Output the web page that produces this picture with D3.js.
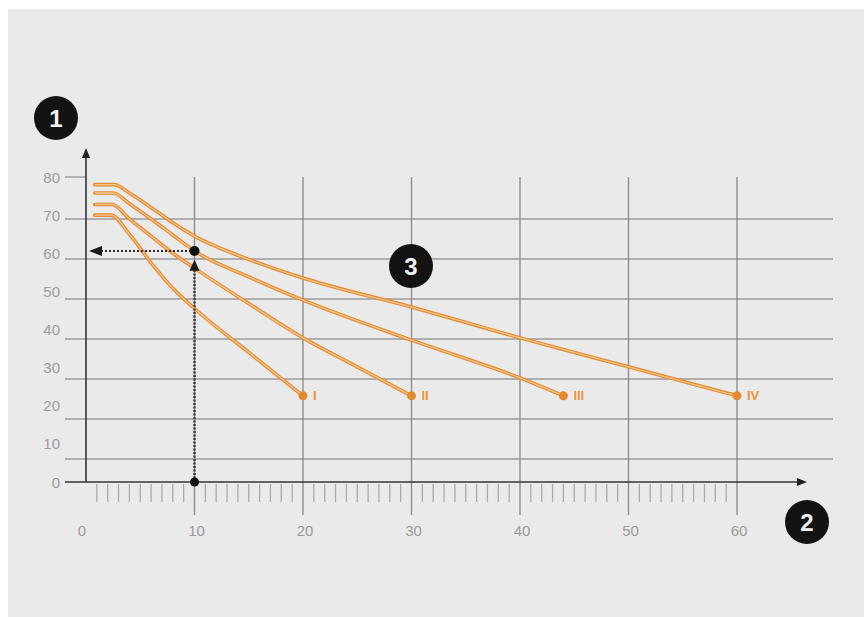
<!DOCTYPE html>
<html>
<head>
<meta charset="utf-8">
<script src="https://cdn.jsdelivr.net/npm/d3@7"></script>
<style>
body { margin: 0; background: #fff; }
text { font-family: "Liberation Sans", Arial, sans-serif; }
</style>
</head>
<body>
<svg id="chart" width="864" height="617"></svg>
<script>
// tick labels
var xTicks = [0, 10, 20, 30, 40, 50, 60]
var yTicks = [0, 10, 20, 30, 40, 50, 60, 70, 80]
var gridLevels = [10, 20, 30, 40, 50, 60, 70]

// the four curves, [x, y]
var seriesNames = ['I', 'II', 'III', 'IV']
var curveI = [[0.8, 70], [2.3, 70], [4, 65], [6, 57.5], [8, 50.8], [10, 45.5], [15, 34], [20, 22.6]]
var curveII = [[0.8, 72.8], [2.4, 72.8], [4, 69], [6, 64.5], [8, 60], [10, 56.1], [15, 46.8], [20, 37.8], [25, 30.2], [30, 22.6]]
var curveIII = [[0.8, 75.8], [2.5, 75.8], [4, 73], [6, 69], [8, 64.8], [10, 60.6], [15, 53.8], [20, 47.7], [30, 37.2], [40, 27.3], [44, 22.6]]
var curveIV = [[0.8, 78], [2.6, 78], [4, 75.8], [6, 72], [8, 68], [10, 64.5], [15, 58.4], [20, 53.5], [30, 45.9], [40, 37.8], [50, 30.2], [60, 22.6]]

// reading example: x = 10 gives about 60
var readX = 10
var readY = 60.6
var readArrowY = 58.3

var orange = '#e38a2e'
var svg = d3.select('#chart')

svg.append('rect')
    .attr('x', 8).attr('y', 9)
    .attr('width', 856).attr('height', 608)
    .attr('fill', '#eaeaea')

var x = d3.scaleLinear().domain([0, 60]).range([86, 737])
var y = d3.scaleLinear().domain([0, 80]).range([482, 177])
// grid rows are drawn a little off the label positions in the original
var gy = d3.scaleLinear().domain([10, 70]).range([459, 219])

// horizontal grid
svg.append('g').selectAll('line')
    .data(gridLevels)
    .join('line')
    .attr('x1', 65).attr('x2', 833)
    .attr('y1', function(d) { return gy(d) })
    .attr('y2', function(d) { return gy(d) })
    .attr('stroke', '#9b9b9b')
    .attr('stroke-width', 1.4)

// short stub at 80
svg.append('line')
    .attr('x1', 65).attr('x2', x(0))
    .attr('y1', y(80)).attr('y2', y(80))
    .attr('stroke', '#9b9b9b')
    .attr('stroke-width', 1.4)

// vertical grid
svg.append('g').selectAll('line')
    .data(xTicks.filter(function(d) { return d > 0 }))
    .join('line')
    .attr('x1', function(d) { return x(d) })
    .attr('x2', function(d) { return x(d) })
    .attr('y1', y(80))
    .attr('y2', 515)
    .attr('stroke', '#8e8e8e')
    .attr('stroke-width', 1.4)

// minor ticks under the x axis
svg.append('g').selectAll('line')
    .data(d3.range(0, 60).filter(function(d) { return d % 10 != 0 }))
    .join('line')
    .attr('x1', function(d) { return x(d) })
    .attr('x2', function(d) { return x(d) })
    .attr('y1', y(0) + 2)
    .attr('y2', y(0) + 20)
    .attr('stroke', '#a9a9a9')
    .attr('stroke-width', 1.3)

// axes
svg.append('line')
    .attr('x1', 65).attr('x2', 800)
    .attr('y1', y(0)).attr('y2', y(0))
    .attr('stroke', '#333').attr('stroke-width', 1.6)
svg.append('path')
    .attr('d', 'M807,' + y(0) + 'L797,' + (y(0) - 4) + 'L797,' + (y(0) + 4) + 'Z')
    .attr('fill', '#222')
svg.append('line')
    .attr('x1', x(0)).attr('x2', x(0))
    .attr('y1', y(0)).attr('y2', 156)
    .attr('stroke', '#333').attr('stroke-width', 1.6)
svg.append('path')
    .attr('d', 'M' + x(0) + ',148L' + (x(0) - 4) + ',158L' + (x(0) + 4) + ',158Z')
    .attr('fill', '#222')

// tick labels
svg.append('g').selectAll('text')
    .data(xTicks)
    .join('text')
    .attr('x', function(d) { return x(d) + (d == 0 ? -4 : 2) })
    .attr('y', 536)
    .attr('text-anchor', 'middle')
    .attr('font-size', 15)
    .attr('fill', '#9a9a9a')
    .text(function(d) { return d })

svg.append('g').selectAll('text')
    .data(yTicks)
    .join('text')
    .attr('x', 60)
    .attr('y', function(d) { return y(d) + 5.5 })
    .attr('text-anchor', 'end')
    .attr('font-size', 15)
    .attr('fill', '#9a9a9a')
    .text(function(d) { return d })

// curves
var series = [curveI, curveII, curveIII, curveIV]
var line = d3.line()
    .x(function(d) { return x(d[0]) })
    .y(function(d) { return y(d[1]) })
    .curve(d3.curveMonotoneX)

svg.append('g').selectAll('path')
    .data(series)
    .join('path')
    .attr('d', line)
    .attr('fill', 'none')
    .attr('stroke', orange)
    .attr('stroke-width', 3.6)
    .attr('stroke-linecap', 'round')
svg.append('g').selectAll('path')
    .data(series)
    .join('path')
    .attr('d', line)
    .attr('fill', 'none')
    .attr('stroke', '#f3c690')
    .attr('stroke-width', 1.3)

// end points and names
var ends = series.map(function(s, i) {
    return { p: s[s.length - 1], name: seriesNames[i] }
})
svg.append('g').selectAll('circle')
    .data(ends)
    .join('circle')
    .attr('cx', function(d) { return x(d.p[0]) })
    .attr('cy', function(d) { return y(d.p[1]) })
    .attr('r', 4.5)
    .attr('fill', orange)
svg.append('g').selectAll('text')
    .data(ends)
    .join('text')
    .attr('x', function(d) { return x(d.p[0]) + 10 })
    .attr('y', function(d) { return y(d.p[1]) + 4.5 })
    .attr('font-size', 13)
    .attr('font-weight', 'bold')
    .attr('fill', '#e8963c')
    .text(function(d) { return d.name })

// reading arrows
svg.append('line')
    .attr('x1', x(0) + 15).attr('x2', x(readX))
    .attr('y1', y(readY)).attr('y2', y(readY))
    .attr('stroke', '#2a2a2a').attr('stroke-width', 2)
    .attr('stroke-dasharray', '2,2')
svg.append('path')
    .attr('d', 'M' + (x(0) + 3) + ',' + y(readY) + 'L' + (x(0) + 16) + ',' + (y(readY) - 5) +
        'L' + (x(0) + 16) + ',' + (y(readY) + 5) + 'Z')
    .attr('fill', '#1a1a1a')
svg.append('line')
    .attr('x1', x(readX)).attr('x2', x(readX))
    .attr('y1', y(0)).attr('y2', y(readArrowY) + 10)
    .attr('stroke', '#3a3a3a').attr('stroke-width', 2.4)
    .attr('stroke-dasharray', '2,1.5')
svg.append('path')
    .attr('d', 'M' + x(readX) + ',' + y(readArrowY) + 'L' + (x(readX) - 5) + ',' + (y(readArrowY) + 11) +
        'L' + (x(readX) + 5) + ',' + (y(readArrowY) + 11) + 'Z')
    .attr('fill', '#1a1a1a')
svg.append('circle')
    .attr('cx', x(readX)).attr('cy', y(readY)).attr('r', 5)
    .attr('fill', '#111')
svg.append('circle')
    .attr('cx', x(readX)).attr('cy', y(0)).attr('r', 4.5)
    .attr('fill', '#111')

// numbered badges
var badges = svg.append('g').selectAll('g')
    .data([{ n: '1', cx: 56, cy: 118 }, { n: '2', cx: 807, cy: 522 }, { n: '3', cx: 411, cy: 266 }])
    .join('g')
    .attr('transform', function(d) { return 'translate(' + d.cx + ',' + d.cy + ')' })
badges.append('circle')
    .attr('r', 22)
    .attr('fill', '#131313')
badges.append('text')
    .attr('y', 8.5)
    .attr('text-anchor', 'middle')
    .attr('font-size', 24)
    .attr('font-weight', 'bold')
    .attr('fill', '#f2f2f2')
    .text(function(d) { return d.n })
</script>
</body>
</html>
